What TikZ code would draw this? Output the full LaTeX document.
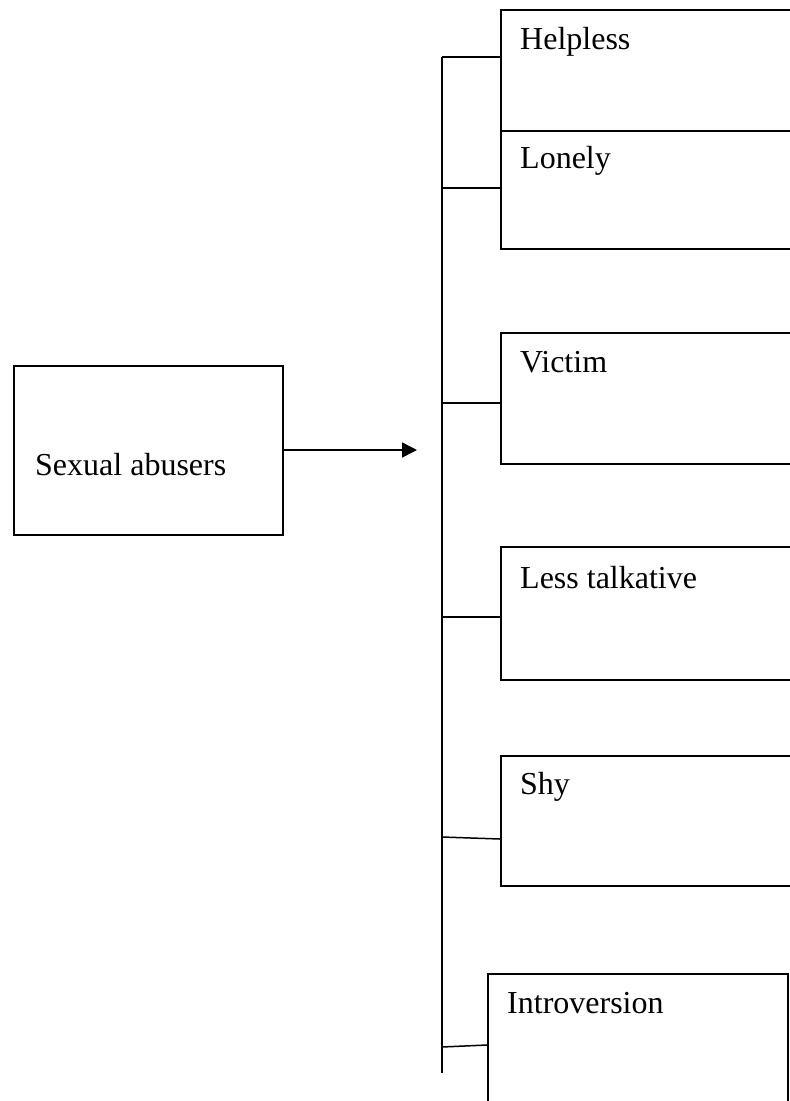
\documentclass[tikz,border=0pt]{standalone}
\usepackage{fontspec}
\setmainfont{Liberation Serif}
\usetikzlibrary{arrows.meta}
\begin{document}
\begin{tikzpicture}[x=1pt,y=-1pt,
  box/.style={draw, line width=1.5pt, inner sep=0pt, anchor=north west},
  trait/.style={box, minimum width=330pt},
  lbl/.style={anchor=base west, inner sep=0pt, font=\fontsize{32}{38}\selectfont},
  link/.style={line width=1.5pt},
  >={Triangle[length=15pt,width=15pt]}]
\useasboundingbox (0,0) rectangle (790,1101);
\begin{scope}
\clip (0,0) rectangle (790,1101);

% source box
\node[box, minimum width=269pt, minimum height=169pt] (src) at (13,365) {};
\node[lbl] (srct) at (35,475) {Sexual abusers};

% trait boxes
\node[trait, minimum height=121pt] (helpless) at (500,9) {};
\node[lbl] (helplesst) at (520,49) {Helpless};
\node[trait, minimum height=118pt] (lonely) at (500,130) {};
\node[lbl] (lonelyt) at (520,168) {Lonely};
\node[trait, minimum height=131pt] (victim) at (500,332) {};
\node[lbl] (victimt) at (520,372) {Victim};
\node[trait, minimum height=133pt] (less) at (500,546) {};
\node[lbl] (lesst) at (520,588) {Less talkative};
\node[trait, minimum height=130pt] (shy) at (500,755) {};
\node[lbl] (shyt) at (520,794) {Shy};
\node[box, minimum width=300pt, minimum height=160pt] (intro) at (487,973) {};
\node[lbl] (introt) at (507,1013) {Introversion};

% spine and its branch points
\coordinate (top) at (442,57);
\coordinate (bot) at (442,1073);
\coordinate (tip) at (417,450);
\coordinate (s1) at (442,57);
\coordinate (s2) at (442,188);
\coordinate (s3) at (442,403);
\coordinate (s4) at (442,617);
\coordinate (s5) at (442,837);
\coordinate (s6) at (442,1047);

\draw[link] (top) -- (bot);
\draw[link] (s1) -- (s1 -| helpless.west);
\draw[link] (s2) -- (s2 -| lonely.west);
\draw[link] (s3) -- (s3 -| victim.west);
\draw[link] (s4) -- (s4 -| less.west);
\draw[link] (s5) -- ([yshift=-2pt]s5 -| shy.west);
\draw[link] (s6) -- ([yshift=2pt]s6 -| intro.west);

% arrow from the source box
\draw[link,->] (src.east |- tip) -- (tip);
\end{scope}
\end{tikzpicture}
\end{document}
